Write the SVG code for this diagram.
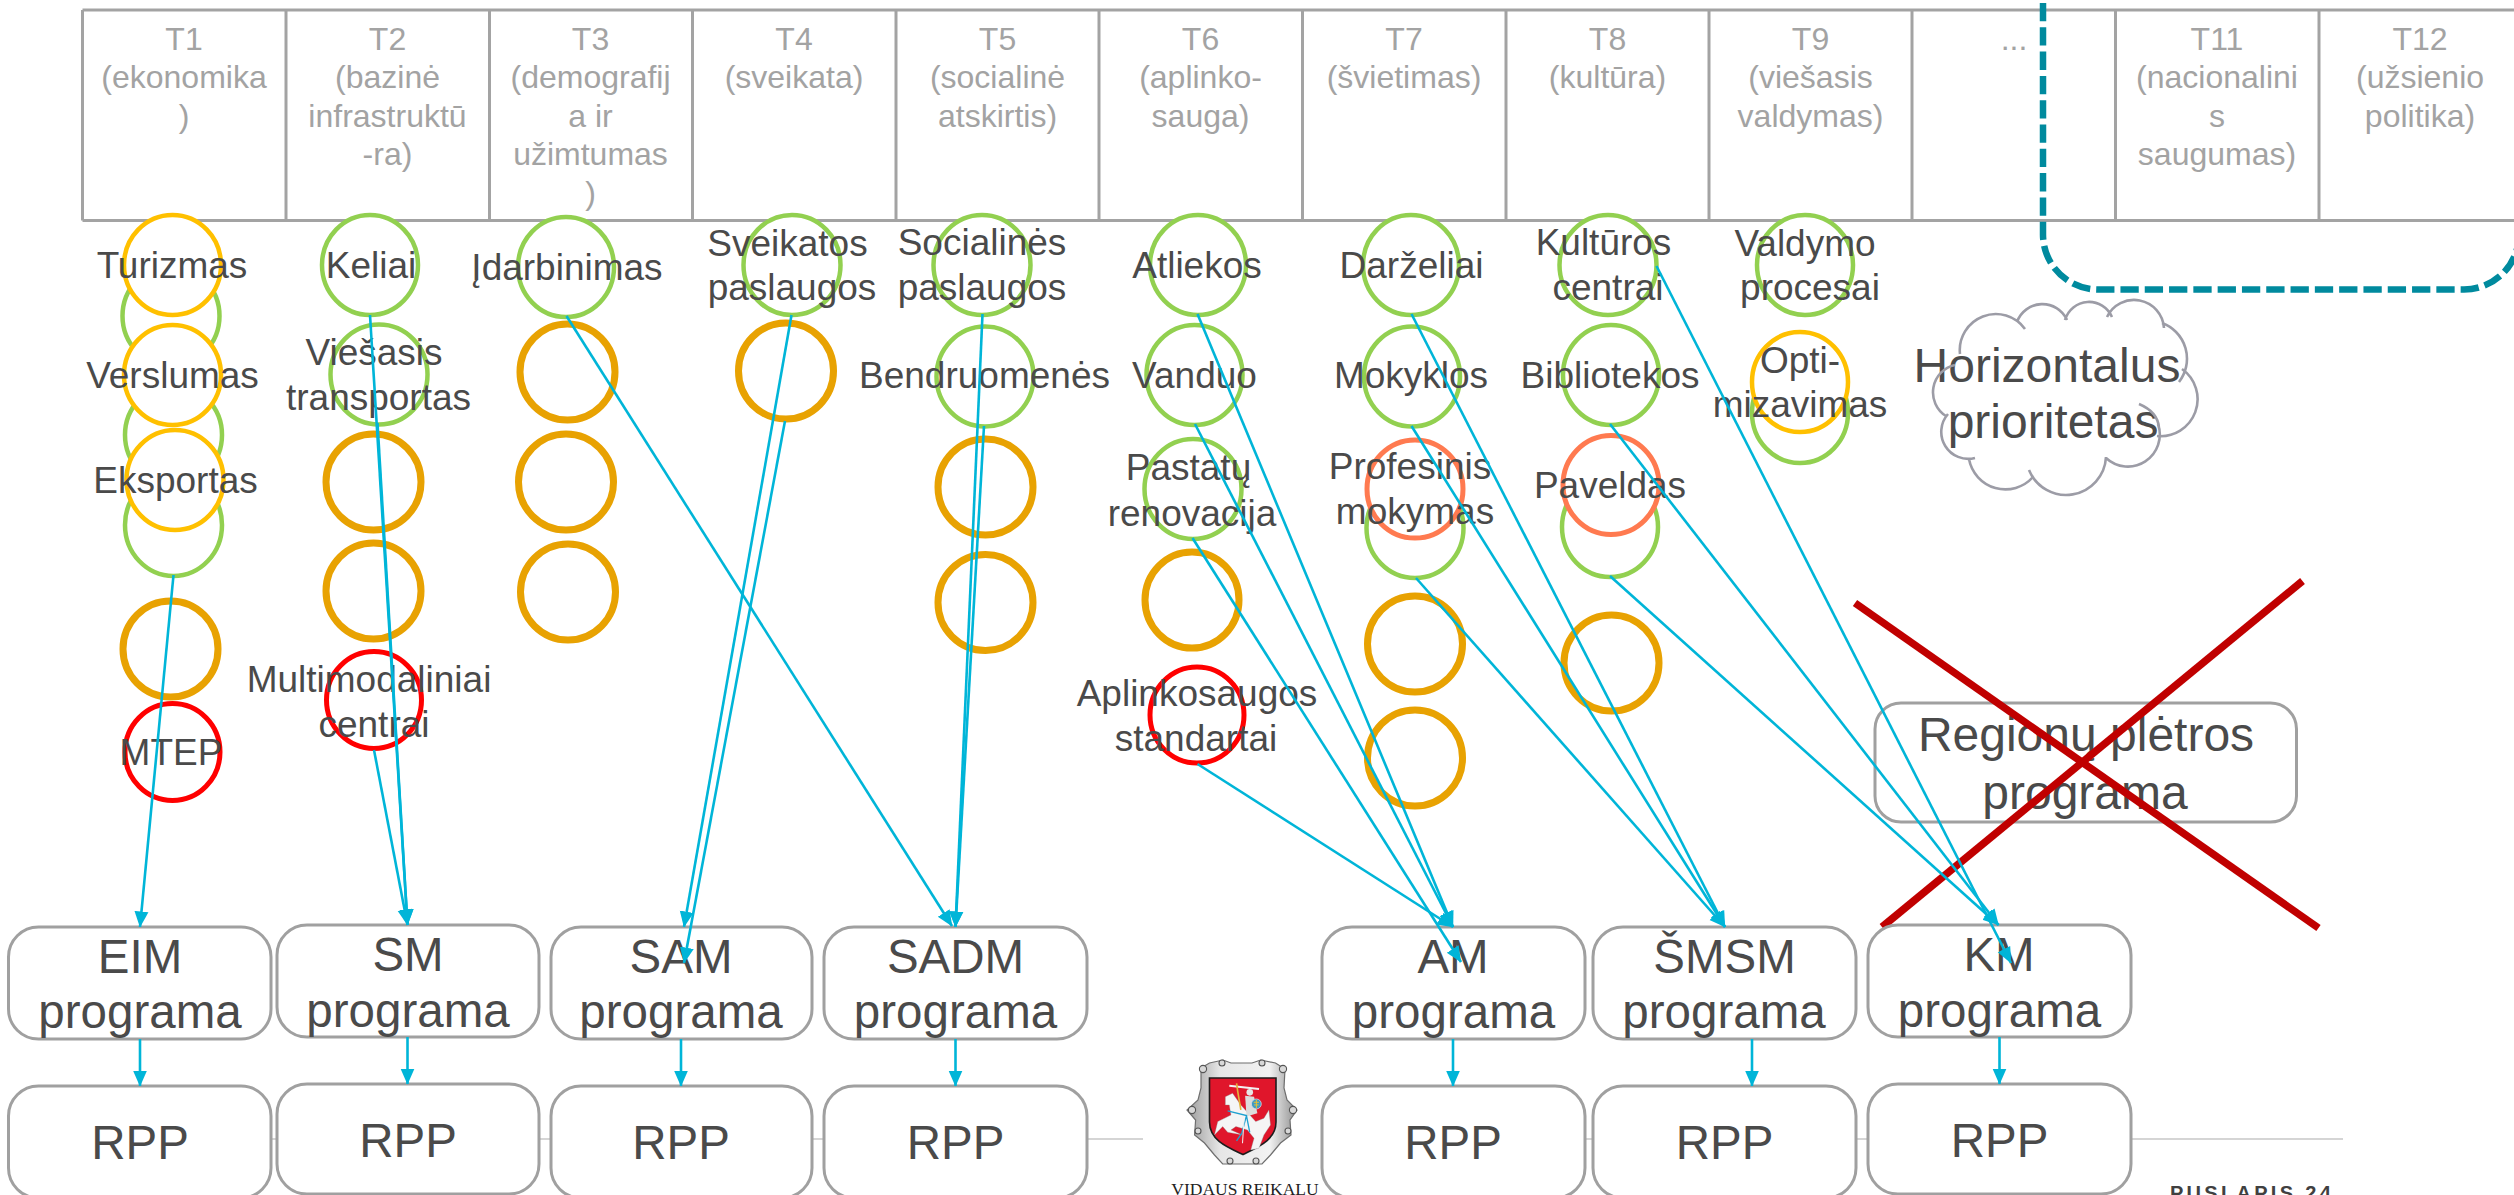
<svg xmlns="http://www.w3.org/2000/svg" width="2514" height="1195" viewBox="0 0 2514 1195">
<style>
text{font-family:"Liberation Sans",Arial,sans-serif;text-anchor:middle}
.h{font-size:32px;fill:#a3a3a3}
.l{font-size:37px;fill:#4a4a4a}
.b{font-size:47.5px;fill:#4a4a4a}
.grid{stroke:#a3a3a3;stroke-width:3;fill:none}
.box{fill:#fff;stroke:#a0a0a0;stroke-width:3}
ellipse{fill:#fff}
.g{stroke:#92d050;stroke-width:4.5}
.y{stroke:#ffc000;stroke-width:4.5}
.o{stroke:#e8a202;stroke-width:7}
.r{stroke:#ff0000;stroke-width:5}
.c{stroke:#ff7a50;stroke-width:5}
.a{stroke:#00b5d8;stroke-width:2.6;marker-end:url(#ah)}
.x{stroke:#c00000;stroke-width:7.5}
</style>
<defs>
<marker id="ah" markerUnits="userSpaceOnUse" markerWidth="16" markerHeight="16" viewBox="0 0 16 16" refX="15.5" refY="8" orient="auto"><path d="M0,1 L16,8 L0,15 Z" fill="#00b5d8"/></marker>
<linearGradient id="fr" x1="0" y1="0" x2="1" y2="0"><stop offset="0" stop-color="#9a9a9a"/><stop offset=".3" stop-color="#e6e6e6"/><stop offset=".75" stop-color="#f2f2f2"/><stop offset="1" stop-color="#8e8e8e"/></linearGradient>
</defs>
<rect width="2514" height="1195" fill="#fff"/>

<g id="footer">
<path d="M271,1139 H1143 M1585,1139 H2343" stroke="#c8c8c8" stroke-width="1.6" fill="none"/>
<text x="2252" y="1200" style="font-size:20px;font-weight:700;letter-spacing:3.3px;fill:#404040">PUSLAPIS 24</text>
</g>

<g id="logo">
<path d="M1201,1068 L1209.5,1063 L1223,1060 L1231,1063 H1252 L1260.7,1060 L1275.5,1063 L1285,1069 L1284,1088 L1287,1100 L1297,1110 L1290,1120 L1291,1135 L1280.5,1143 L1270.5,1155 L1262,1164 H1222.7 L1214.5,1155 L1204.5,1143 L1194.6,1135 L1195.6,1120 L1187,1110 L1198,1100 L1201,1088 Z" fill="url(#fr)" stroke="#6e6e6e" stroke-width="1.2"/>
<g fill="#d8d8d8" stroke="#555" stroke-width="1.1"><circle cx="1203" cy="1069" r="3.6"/><circle cx="1222" cy="1063" r="3"/><circle cx="1262" cy="1063" r="3"/><circle cx="1283" cy="1069" r="3.6"/><circle cx="1192" cy="1110" r="3.6"/><circle cx="1293" cy="1110" r="3.6"/><circle cx="1198" cy="1131" r="3"/><circle cx="1288" cy="1131" r="3"/><circle cx="1230" cy="1161" r="3"/><circle cx="1256" cy="1161" r="3"/></g>
<path d="M1209.5,1078 H1276 V1122 C1276,1140 1258,1147 1243,1154.5 C1227,1147 1209.5,1140 1209.5,1122 Z" fill="#e0162b" stroke="#1d1d1d" stroke-width="1.6"/>
<g transform="translate(1160,1055) scale(.33,.333)">
<path d="M198,125 L220,115 L245,150 L290,200 L315,190 L330,165 L335,210 L315,240 L300,280 L275,285 L285,250 L265,225 L230,215 L215,225 L250,240 L205,232 L190,215 L165,240 L175,200 L215,180 L210,150 L198,150 Z" fill="#f5f5f5" stroke="#888" stroke-width="1"/>
<path d="M210,92 L300,102" stroke="#f2f2f2" stroke-width="6"/>
<path d="M232,85 L236,112 L245,165" stroke="#e2b23a" stroke-width="5" fill="none"/>
<circle cx="272" cy="112" r="10" fill="#e6e6e6"/>
<path d="M258,122 L285,125 L295,175 L262,185 Z" fill="#dcdcdc"/>
<circle cx="292" cy="147" r="15" fill="#3d9ac8" stroke="#e8e8e8" stroke-width="2"/>
<path d="M292,135 V160 M284,142 H300 M285,150 H299" stroke="#e9c22a" stroke-width="3"/>
<path d="M205,168 L262,182 L248,235 L232,258 M262,182 L272,232" stroke="#1ea0d0" stroke-width="4" fill="none"/>
<path d="M255,190 L250,265" stroke="#f3f3f3" stroke-width="3"/>
</g>
<text x="1245" y="1195" style="font-family:'Liberation Serif',serif;font-size:17.5px;fill:#222">VIDAUS REIKALU</text>
</g>

<g id="table">
<path class="grid" d="M82.5,10 H2514 M82.5,220.5 H2514 M82.5,10 V220.5 M286,10 V220.5 M489.5,10 V220.5 M692.5,10 V220.5 M896,10 V220.5 M1099,10 V220.5 M1302.5,10 V220.5 M1506,10 V220.5 M1709,10 V220.5 M1912,10 V220.5 M2115.5,10 V220.5 M2319,10 V220.5"/>
<g class="h">
<text x="184" y="49.5">T1</text><text x="184" y="88">(ekonomika</text><text x="184" y="126.5">)</text>
<text x="387.5" y="49.5">T2</text><text x="387.5" y="88">(bazinė</text><text x="387.5" y="126.5">infrastruktū</text><text x="387.5" y="165">-ra)</text>
<text x="590.5" y="49.5">T3</text><text x="590.5" y="88">(demografij</text><text x="590.5" y="126.5">a ir</text><text x="590.5" y="165">užimtumas</text><text x="590.5" y="203.5">)</text>
<text x="794" y="49.5">T4</text><text x="794" y="88">(sveikata)</text>
<text x="997.5" y="49.5">T5</text><text x="997.5" y="88">(socialinė</text><text x="997.5" y="126.5">atskirtis)</text>
<text x="1200.5" y="49.5">T6</text><text x="1200.5" y="88">(aplinko-</text><text x="1200.5" y="126.5">sauga)</text>
<text x="1404" y="49.5">T7</text><text x="1404" y="88">(švietimas)</text>
<text x="1607.5" y="49.5">T8</text><text x="1607.5" y="88">(kultūra)</text>
<text x="1810.5" y="49.5">T9</text><text x="1810.5" y="88">(viešasis</text><text x="1810.5" y="126.5">valdymas)</text>
<text x="2014" y="49.5">...</text>
<text x="2217" y="49.5">T11</text><text x="2217" y="88">(nacionalini</text><text x="2217" y="126.5">s</text><text x="2217" y="165">saugumas)</text>
<text x="2420" y="49.5">T12</text><text x="2420" y="88">(užsienio</text><text x="2420" y="126.5">politika)</text>
</g>
</g>

<path id="scope" d="M2043,3 V234.5 a55,55 0 0 0 55,55 H2464 a55,55 0 0 0 55,-55 V0" fill="none" stroke="#008a9e" stroke-width="6.5" stroke-dasharray="18.3 6"/>

<g id="n-t1-green1"><ellipse class="g" cx="171" cy="316" rx="48.5" ry="50"/></g>
<g id="n-t1-green2"><ellipse class="g" cx="173.5" cy="435" rx="48.5" ry="50"/></g>
<g id="n-t1-green3"><ellipse class="g" cx="173.5" cy="525" rx="48.5" ry="51"/></g>
<g id="n-turizmas"><ellipse class="y" cx="172.5" cy="265" rx="48.5" ry="50"/><text class="l" x="172" y="278">Turizmas</text></g>
<g id="n-verslumas"><ellipse class="y" cx="172.5" cy="375" rx="48.5" ry="50"/><text class="l" x="172.5" y="388">Verslumas</text></g>
<g id="n-eksportas"><ellipse class="y" cx="175" cy="480" rx="48.5" ry="50"/><text class="l" x="175.5" y="493">Eksportas</text></g>
<g id="n-t1-o"><ellipse class="o" cx="170.5" cy="649" rx="47.5" ry="48"/></g>
<g id="n-mtep"><ellipse class="r" cx="172.5" cy="752" rx="47.5" ry="48.5"/><text class="l" x="171" y="765">MTEP</text></g>

<g id="n-keliai"><ellipse class="g" cx="370" cy="265" rx="48" ry="50"/><text class="l" x="371" y="278">Keliai</text></g>
<g id="n-viesasis"><ellipse class="g" cx="379" cy="374.5" rx="48.5" ry="50"/><text class="l" x="374" y="365">Viešasis</text><text class="l" x="378.5" y="410">transportas</text></g>
<g id="n-t2-o1"><ellipse class="o" cx="373.5" cy="482" rx="47.5" ry="48"/></g>
<g id="n-t2-o2"><ellipse class="o" cx="373.5" cy="591" rx="47.5" ry="48"/></g>
<g id="n-multimodaliniai"><ellipse class="r" cx="374" cy="700" rx="47.5" ry="48.5"/><text class="l" x="369" y="692">Multimodaliniai</text><text class="l" x="374" y="737">centrai</text></g>

<g id="n-idarbinimas"><ellipse class="g" cx="566" cy="267" rx="48" ry="50"/><text class="l" x="567" y="280">Įdarbinimas</text></g>
<g id="n-t3-o1"><ellipse class="o" cx="567.5" cy="372" rx="47.5" ry="48"/></g>
<g id="n-t3-o2"><ellipse class="o" cx="566" cy="482" rx="47.5" ry="48"/></g>
<g id="n-t3-o3"><ellipse class="o" cx="568" cy="592" rx="47.5" ry="48"/></g>

<g id="n-sveikatos"><ellipse class="g" cx="792" cy="265" rx="48.5" ry="50"/><text class="l" x="787.5" y="256">Sveikatos</text><text class="l" x="792" y="300">paslaugos</text></g>
<g id="n-t4-o"><ellipse class="o" cx="786" cy="371" rx="47.5" ry="48"/></g>

<g id="n-socialines"><ellipse class="g" cx="982" cy="265" rx="48.5" ry="50"/><text class="l" x="982" y="255">Socialinės</text><text class="l" x="982" y="300">paslaugos</text></g>
<g id="n-bendruomenes"><ellipse class="g" cx="985" cy="376.5" rx="48.5" ry="50"/><text class="l" x="984.5" y="388">Bendruomenės</text></g>
<g id="n-t5-o1"><ellipse class="o" cx="985.5" cy="487" rx="47.5" ry="48"/></g>
<g id="n-t5-o2"><ellipse class="o" cx="985.5" cy="602.5" rx="47.5" ry="48"/></g>

<g id="n-atliekos"><ellipse class="g" cx="1198" cy="265" rx="48" ry="50"/><text class="l" x="1197" y="278">Atliekos</text></g>
<g id="n-vanduo"><ellipse class="g" cx="1194.5" cy="375" rx="48" ry="50"/><text class="l" x="1194.5" y="388">Vanduo</text></g>
<g id="n-pastatu"><ellipse class="g" cx="1193" cy="489" rx="48.5" ry="50"/><text class="l" x="1188.5" y="480">Pastatų</text><text class="l" x="1192" y="526">renovacija</text></g>
<g id="n-t6-o"><ellipse class="o" cx="1192" cy="600" rx="47" ry="48"/></g>
<g id="n-aplinkosaugos"><ellipse class="r" cx="1197" cy="715" rx="47" ry="48"/><text class="l" x="1197" y="706">Aplinkosaugos</text><text class="l" x="1196" y="751">standartai</text></g>

<g id="n-darzeliai"><ellipse class="g" cx="1411" cy="265" rx="48" ry="50"/><text class="l" x="1411.5" y="278">Darželiai</text></g>
<g id="n-mokyklos"><ellipse class="g" cx="1412" cy="376.5" rx="48" ry="50"/><text class="l" x="1411" y="388">Mokyklos</text></g>
<g id="n-t7-green"><ellipse class="g" cx="1415" cy="528" rx="48.5" ry="50"/></g>
<g id="n-profesinis"><ellipse class="c" cx="1415" cy="489" rx="48" ry="49"/><text class="l" x="1410" y="479">Profesinis</text><text class="l" x="1415" y="524">mokymas</text></g>
<g id="n-t7-o1"><ellipse class="o" cx="1415" cy="644" rx="47.5" ry="48"/></g>
<g id="n-t7-o2"><ellipse class="o" cx="1415" cy="758" rx="47.5" ry="48"/></g>

<g id="n-kulturos"><ellipse class="g" cx="1608" cy="265" rx="48.5" ry="50"/><text class="l" x="1603.5" y="255">Kultūros</text><text class="l" x="1608" y="300">centrai</text></g>
<g id="n-bibliotekos"><ellipse class="g" cx="1611" cy="375" rx="48" ry="50"/><text class="l" x="1610" y="388">Bibliotekos</text></g>
<g id="n-t8-green"><ellipse class="g" cx="1610" cy="527" rx="48" ry="50"/></g>
<g id="n-paveldas"><ellipse class="c" cx="1611" cy="485" rx="48" ry="49.5"/><text class="l" x="1610" y="498">Paveldas</text></g>
<g id="n-t8-o"><ellipse class="o" cx="1611.5" cy="663" rx="47.5" ry="48"/></g>

<g id="n-valdymo"><ellipse class="g" cx="1805" cy="265" rx="48" ry="50"/><text class="l" x="1805" y="256">Valdymo</text><text class="l" x="1810" y="300">procesai</text></g>
<g id="n-t9-green"><ellipse class="g" cx="1800" cy="413" rx="48" ry="50"/></g>
<g id="n-optimizavimas"><ellipse class="y" cx="1800" cy="382" rx="48" ry="50"/><text class="l" x="1800" y="373">Opti-</text><text class="l" x="1800" y="417">mizavimas</text></g>

<g id="n-horizontalus">
<text x="2047" y="382" style="font-size:48px;fill:#4a4a4a">Horizontalus</text>
<text x="2053" y="438" style="font-size:48px;fill:#4a4a4a">prioritetas</text>
<path fill="none" stroke="#9c9ca6" stroke-width="2.6" d="M1960,354 A36,36 0 0 1 2025,329 M2017,322 A27,27 0 0 1 2067,320 M2065,320 A25,25 0 0 1 2112,317 M2107,317 A30,30 0 0 1 2164,328 M2162,323 A38,38 0 0 1 2179,382 M2182,369 A37,37 0 0 1 2157,436 M2139,404 Q2158,412 2159,428 M2158,424 A32,32 0 0 1 2106,458 M2106,457 A40,40 0 0 1 2029,470 M2033,477 A37,37 0 0 1 1969,459 M1975,458 A27,27 0 0 1 1948,414 M1946,416 A28,28 0 0 1 1955,365"/>
</g>

<g id="n-regionu">
<rect class="box" x="1875" y="703" width="421.5" height="119" rx="26"/>
<text x="2086" y="750.5" style="font-size:48px;fill:#4a4a4a">Regionų plėtros</text>
<text x="2085" y="809" style="font-size:48px;fill:#4a4a4a">programa</text>
</g>
<g id="cross"><line class="x" x1="1855" y1="603" x2="2318.5" y2="928"/><line class="x" x1="2302.5" y1="581" x2="1882" y2="927"/></g>

<g id="n-eim"><rect class="box" x="8.5" y="927" width="262.5" height="112" rx="30"/><text class="b" x="140" y="972.7">EIM</text><text class="b" x="140" y="1028.3">programa</text></g>
<g id="n-sm"><rect class="box" x="277" y="925" width="262" height="112" rx="30"/><text class="b" x="408" y="970.7">SM</text><text class="b" x="408" y="1026.7">programa</text></g>
<g id="n-sam"><rect class="box" x="551" y="927" width="261" height="112" rx="30"/><text class="b" x="681" y="972.7">SAM</text><text class="b" x="681" y="1028.3">programa</text></g>
<g id="n-sadm"><rect class="box" x="824" y="927" width="263" height="112" rx="30"/><text class="b" x="955.5" y="972.7">SADM</text><text class="b" x="955.5" y="1028.3">programa</text></g>
<g id="n-am"><rect class="box" x="1322" y="927" width="263" height="112" rx="30"/><text class="b" x="1453" y="972.7">AM</text><text class="b" x="1453.5" y="1028.3">programa</text></g>
<g id="n-smsm"><rect class="box" x="1593" y="927" width="263" height="112" rx="30"/><text class="b" x="1724.5" y="972.7">ŠMSM</text><text class="b" x="1724" y="1028.3">programa</text></g>
<g id="n-km"><rect class="box" x="1868" y="925" width="263" height="112" rx="30"/><text class="b" x="1999" y="970.7">KM</text><text class="b" x="1999.5" y="1026.7">programa</text></g>

<g id="n-rpp1"><rect class="box" x="8.5" y="1086" width="262.5" height="112" rx="30"/><text class="b" x="140" y="1159.3">RPP</text></g>
<g id="n-rpp2"><rect class="box" x="277" y="1084" width="262" height="110" rx="30"/><text class="b" x="408" y="1157.3">RPP</text></g>
<g id="n-rpp3"><rect class="box" x="551" y="1086" width="261" height="112" rx="30"/><text class="b" x="681" y="1159.3">RPP</text></g>
<g id="n-rpp4"><rect class="box" x="824" y="1086" width="263" height="112" rx="30"/><text class="b" x="955.5" y="1159.3">RPP</text></g>
<g id="n-rpp5"><rect class="box" x="1322" y="1086" width="263" height="112" rx="30"/><text class="b" x="1453" y="1159.3">RPP</text></g>
<g id="n-rpp6"><rect class="box" x="1593" y="1086" width="263" height="112" rx="30"/><text class="b" x="1724.5" y="1159.3">RPP</text></g>
<g id="n-rpp7"><rect class="box" x="1868" y="1084" width="263" height="110" rx="30"/><text class="b" x="1999.5" y="1157.3">RPP</text></g>

<g id="connectors">
<line class="a" x1="173.5" y1="575" x2="140" y2="927"/>
<line class="a" x1="370" y1="315" x2="407.5" y2="925"/>
<line class="a" x1="377.5" y1="423" x2="407.5" y2="925"/>
<line class="a" x1="374" y1="750" x2="407.5" y2="925"/>
<line class="a" x1="791.5" y1="315" x2="684" y2="927"/>
<line class="a" x1="785" y1="421" x2="684" y2="963"/>
<line class="a" x1="566.5" y1="316" x2="952" y2="926"/>
<line class="a" x1="982.5" y1="314" x2="955.5" y2="927"/>
<line class="a" x1="984" y1="426" x2="955.5" y2="927"/>
<line class="a" x1="1197.5" y1="764" x2="1453" y2="927"/>
<line class="a" x1="1192.5" y1="538" x2="1461" y2="962"/>
<line class="a" x1="1195" y1="424" x2="1453" y2="927"/>
<line class="a" x1="1197.5" y1="314" x2="1453" y2="927"/>
<line class="a" x1="1411.5" y1="314" x2="1725" y2="927"/>
<line class="a" x1="1411.5" y1="426" x2="1725" y2="927"/>
<line class="a" x1="1416" y1="578" x2="1725" y2="927"/>
<line class="a" x1="1656.5" y1="266" x2="2011" y2="963"/>
<line class="a" x1="1610" y1="424" x2="1998.5" y2="925"/>
<line class="a" x1="1610" y1="576" x2="1998.5" y2="925"/>
<line class="a" x1="140" y1="1039" x2="140" y2="1086"/>
<line class="a" x1="407.5" y1="1037" x2="407.5" y2="1084"/>
<line class="a" x1="681" y1="1039" x2="681" y2="1086"/>
<line class="a" x1="955.5" y1="1039" x2="955.5" y2="1086"/>
<line class="a" x1="1453" y1="1039" x2="1453" y2="1086"/>
<line class="a" x1="1752" y1="1039" x2="1752" y2="1086"/>
<line class="a" x1="1999.5" y1="1037" x2="1999.5" y2="1084"/>
</g>
</svg>
